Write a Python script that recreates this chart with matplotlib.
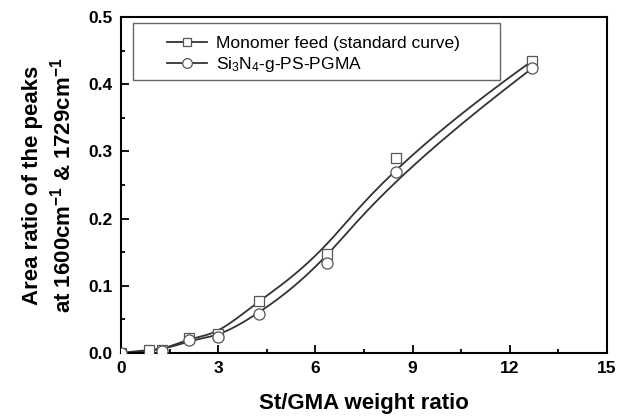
import numpy as np
import matplotlib
matplotlib.use("Agg")
import matplotlib.pyplot as plt
from matplotlib.ticker import MultipleLocator
from matplotlib.patches import Rectangle

plt.rcParams['font.family'] = ['Liberation Sans', 'DejaVu Sans']
plt.rcParams['mathtext.fontset'] = 'custom'
plt.rcParams['mathtext.rm'] = 'Liberation Sans'
plt.rcParams['mathtext.bf'] = 'Liberation Sans:bold'
plt.rcParams['mathtext.it'] = 'Liberation Sans:italic'

# Data
feed_x = [0.0, 0.85, 1.28, 2.1, 3.0, 4.25, 6.35, 8.5, 12.7]
feed_y = [0.0, 0.005, 0.004, 0.022, 0.028, 0.078, 0.148, 0.290, 0.435]
graft_x = [0.0, 1.28, 2.1, 3.0, 4.25, 6.35, 8.5, 12.7]
graft_y = [0.0, 0.003, 0.020, 0.024, 0.058, 0.134, 0.270, 0.424]

x_ticks = [0, 3, 6, 9, 12, 15]
y_ticks = [0.0, 0.1, 0.2, 0.3, 0.4, 0.5]


def bspline(xs, ys, n=300, k=3):
    P = np.column_stack([xs, ys]).astype(float)
    m = len(P)
    k = min(k, m - 1)
    knots = np.concatenate([np.zeros(k), np.linspace(0, 1, m - k + 1), np.ones(k)])
    t = np.linspace(0, 1 - 1e-9, n)

    def basis(i, p, tt):
        if p == 0:
            return np.where((knots[i] <= tt) & (tt < knots[i + 1]), 1.0, 0.0)
        a = np.zeros_like(tt)
        b = np.zeros_like(tt)
        d1 = knots[i + p] - knots[i]
        d2 = knots[i + p + 1] - knots[i + 1]
        if d1 > 0:
            a = (tt - knots[i]) / d1 * basis(i, p - 1, tt)
        if d2 > 0:
            b = (knots[i + p + 1] - tt) / d2 * basis(i + 1, p - 1, tt)
        return a + b

    B = np.column_stack([basis(i, k, t) for i in range(m)])
    C = B @ P
    C = np.vstack([C, P[-1]])
    return C[:, 0], C[:, 1]


fig = plt.figure(figsize=(6.18, 4.17), dpi=100)
ax = fig.add_axes([121 / 618, 1 - 353 / 417, (607 - 121) / 618, (353 - 17) / 417])

lc = '#333333'
for xs, ys, mk, lab, ms in [(feed_x, feed_y, 's', 'Monomer feed (standard curve)', 7),
                            (graft_x, graft_y, 'o', r'Si$_3$N$_4$-g-PS-PGMA', 8)]:
    cx, cy = bspline(xs, ys)
    ax.plot(cx, cy, color=lc, lw=1.3, zorder=2)
    ax.plot(xs, ys, linestyle='none', marker=mk, ms=ms, mfc='white', mec='#555555', mew=0.9, zorder=3)
    ax.plot([], [], color=lc, lw=1.3, marker=mk, ms=ms - 1, mfc='white', mec='#555555', mew=0.9, label=lab)

ax.set_xlim(0, 15)
ax.set_ylim(0, 0.5)
ax.set_xticks(x_ticks)
ax.set_yticks(y_ticks)
ax.set_yticklabels([f"{v:.1f}" for v in y_ticks])
ax.xaxis.set_minor_locator(MultipleLocator(1.5))
ax.yaxis.set_minor_locator(MultipleLocator(0.05))
ax.tick_params(which='both', direction='in', top=False, right=False, width=1.3)
ax.tick_params(which='major', length=6, labelsize=12.5, pad=6)
ax.tick_params(which='minor', length=3)
for lbl in ax.get_xticklabels() + ax.get_yticklabels():
    lbl.set_fontweight('bold')
for s in ax.spines.values():
    s.set_linewidth(1.5)

ax.set_xlabel('St/GMA weight ratio', fontsize=16, fontweight='bold', labelpad=12)
ax.set_ylabel('Area ratio of the peaks\n' + r'at 1600cm$^{\mathbf{-1}}$ & 1729cm$^{\mathbf{-1}}$',
              fontsize=16, fontweight='bold', labelpad=9, linespacing=1.35)

# legend frame drawn in pixel-based axes fraction
W, H = 486.0, 336.0
ax.add_patch(Rectangle(((133 - 121) / W, 1 - (80 - 17) / H), (500 - 133) / W, (80 - 23) / H,
                       transform=ax.transAxes, fill=False, edgecolor='#666666', lw=1.0, zorder=4))
leg = ax.legend(loc='upper left', bbox_to_anchor=((167 - 121) / W, 1 - (36 - 17) / H), fontsize=12.5,
                frameon=False, handlelength=2.3, borderpad=0, labelspacing=0.2,
                borderaxespad=0, handletextpad=0.55)

fig.savefig('out.png', dpi=100)
